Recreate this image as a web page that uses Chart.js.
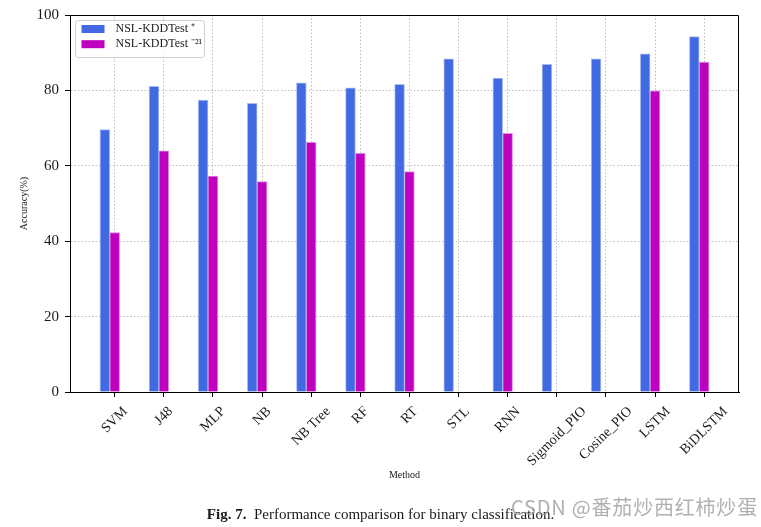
<!DOCTYPE html>
<html><head><meta charset="utf-8">
<script src="https://cdn.jsdelivr.net/npm/chart.js@4"></script>
<style>
html,body{margin:0;padding:0;background:#fff;}
#wrap{position:relative;width:761px;height:527px;overflow:hidden;background:#fff;}
#c{position:absolute;left:0;top:0;}
#cap{position:absolute;left:0;top:503px;width:761px;text-align:center;font-family:'Liberation Serif',serif;font-size:15px;line-height:22px;color:#1a1a1a;white-space:nowrap;}
#wm{position:absolute;left:511px;top:495px;font-family:'Noto Sans CJK SC',sans-serif;font-size:20px;letter-spacing:0.8px;color:rgba(150,150,150,0.75);white-space:nowrap;line-height:24px;}
</style></head><body>
<div id="wrap"><canvas id="c" width="761" height="527"></canvas>
<div id="cap"><b>Fig. 7.</b>&nbsp; Performance comparison for binary classification.</div>
<div id="wm">CSDN @番茄炒西红柿炒蛋</div></div>
<script>
const methods = ['SVM','J48','MLP','NB','NB Tree','RF','RT','STL','RNN','Sigmoid_PIO','Cosine_PIO','LSTM','BiDLSTM'];
const accPlus = [69.6, 81.1, 77.4, 76.6, 82.0, 80.7, 81.6, 88.4, 83.3, 86.9, 88.4, 89.7, 94.3];
const acc21 = [42.3, 64.0, 57.3, 55.8, 66.2, 63.3, 58.5, null, 68.6, null, null, 79.9, 87.5];
const seriesLabels = ['NSL-KDDTest \u207A', 'NSL-KDDTest \u207B\u00B2\u00B9'];
const yTicks = [0, 20, 40, 60, 80, 100];
const xTitle = 'Method';
const yTitle = 'Accuracy(%)';

const BLUE = '#4169E1', MAG = '#BF00BF';
const BAR_SHIFT = 0.2;
const toPoints = (vals, shift) => vals.map((v, i) => v == null ? null : {x: i + shift, y: v}).filter(p => p);
const GRID = '#bdbdbd';
const serif = '"Liberation Serif", "Times New Roman", serif';

const framePlugin = {
  id: 'frame',
  afterDraw(chart) {
    const {ctx, chartArea: a, scales: {x}} = chart;
    ctx.save();
    ctx.font = '14px ' + serif;
    ctx.fillStyle = '#1a1a1a';
    ctx.textAlign = 'center';
    ctx.textBaseline = 'middle';
    methods.forEach((m, i) => {
      const px = x.getPixelForValue(i);
      const L = ctx.measureText(m).width;
      const b = (L + 12) * Math.SQRT1_2;
      ctx.save();
      ctx.translate(px, a.bottom + 13 + b / 2);
      ctx.rotate(-Math.PI / 4);
      ctx.fillText(m, 0, 0);
      ctx.restore();
    });
    ctx.strokeStyle = '#000';
    ctx.lineWidth = 1;
    const t = Math.round(a.top) + 0.5, r = Math.round(a.right) - 0.5;
    ctx.beginPath();
    ctx.moveTo(a.left, t); ctx.lineTo(r, t); ctx.lineTo(r, a.bottom);
    ctx.stroke();
    const lx = a.left + 5.5, ly = a.top + 5.5, lw = 129, lh = 37;
    ctx.beginPath();
    if (ctx.roundRect) ctx.roundRect(lx, ly, lw, lh, 3); else ctx.rect(lx, ly, lw, lh);
    ctx.fillStyle = 'rgba(255,255,255,0.85)';
    ctx.fill();
    ctx.strokeStyle = '#cfcfcf';
    ctx.stroke();
    ctx.font = '12px ' + serif;
    ctx.textAlign = 'left';
    ctx.textBaseline = 'middle';
    chart.data.datasets.forEach((ds, k) => {
      const cy = ly + 8.5 + k * 15.2;
      ctx.fillStyle = ds.backgroundColor;
      ctx.fillRect(lx + 6, cy - 4, 23, 8);
      ctx.fillStyle = '#1a1a1a';
      ctx.fillText(ds.label, lx + 40, cy);
    });
    ctx.restore();
  }
};

new Chart(document.getElementById('c'), {
  type: 'bar',
  data: {
    datasets: [
      {label: seriesLabels[0], data: toPoints(accPlus, -BAR_SHIFT), backgroundColor: BLUE, borderColor: '#a9bcf3', borderWidth: 1, barThickness: 9.8, grouped: false},
      {label: seriesLabels[1], data: toPoints(acc21, 0), backgroundColor: MAG, borderColor: '#e08be0', borderWidth: 1, barThickness: 9.8, grouped: false}
    ]
  },
  options: {
    responsive: false,
    animation: false,
    layout: {padding: {top: 13, right: 22, bottom: 43, left: 0}},
    plugins: {legend: {display: false}, tooltip: {enabled: false}},
    scales: {
      x: {
        type: 'linear', min: -0.91, max: 12.71, z: 1, offset: false,
        afterBuildTicks: s => { s.ticks = methods.map((_, i) => ({value: i})); },
        ticks: {display: false},
        grid: {offset: false, color: GRID, lineWidth: 1, tickColor: '#000', tickLength: 5, tickWidth: 1, tickBorderDash: [], drawTicks: true},
        border: {display: true, color: '#000', width: 1, dash: [1.5, 2]},
        title: {display: true, text: xTitle, font: {family: serif, size: 10}, color: '#1a1a1a', padding: {top: 0, bottom: 3}},
        afterFit: s => { s.height = 92; }
      },
      y: {
        min: 0, max: 100, z: 1,
        afterBuildTicks: s => { s.ticks = yTicks.map(v => ({value: v})); },
        ticks: {font: {family: serif, size: 15}, color: '#1a1a1a', padding: 6},
        grid: {color: GRID, lineWidth: 1, tickColor: '#000', tickLength: 5, tickWidth: 1, tickBorderDash: []},
        border: {display: true, color: '#000', width: 1, dash: [1.5, 2]},
        title: {display: true, text: yTitle, font: {family: serif, size: 10}, color: '#1a1a1a', padding: {top: 18, bottom: 0}},
        afterFit: s => { s.width = 70; }
      }
    }
  },
  plugins: [framePlugin]
});
</script>
</body></html>
